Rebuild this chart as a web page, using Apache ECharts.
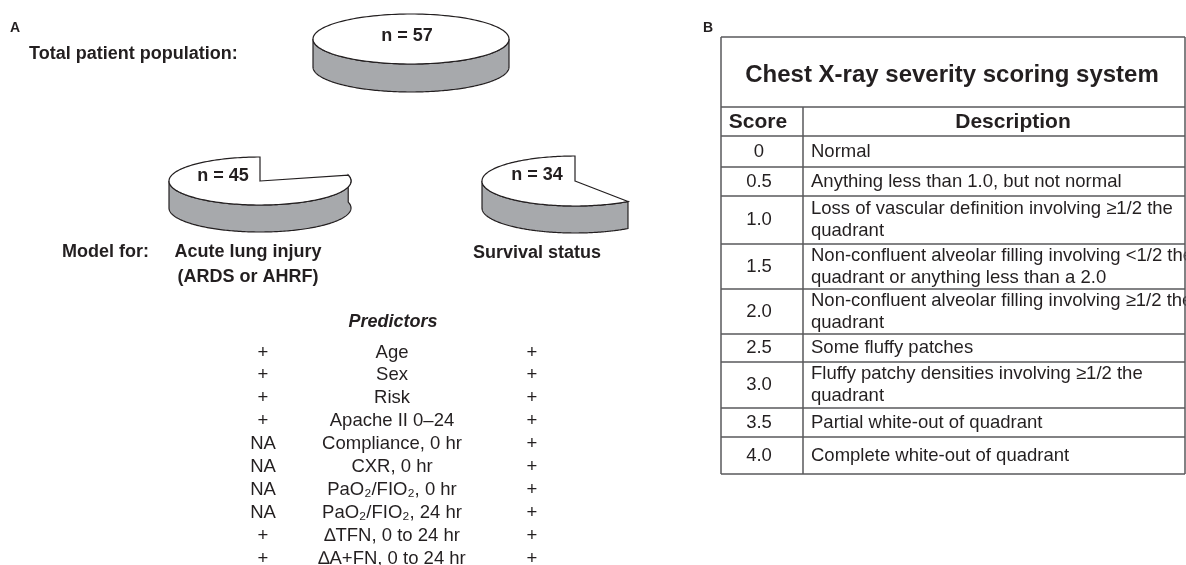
<!DOCTYPE html>
<html><head><meta charset="utf-8">
<script src="https://cdn.jsdelivr.net/npm/echarts@6/dist/echarts.min.js"></script>
<style>html,body{margin:0;padding:0;background:#fff}#c{width:1186px;height:565px}</style>
</head><body><div id="c"></div>
<script>
// ---------------- DATA ----------------
const totalN = 57;
const pieGroups = ['Total patient population', 'Acute lung injury (ARDS or AHRF)', 'Survival status'];
const pieN = [57, 45, 34];
const predictors = ['Age', 'Sex', 'Risk', 'Apache II 0–24', 'Compliance, 0 hr', 'CXR, 0 hr',
  'PaO₂/FIO₂, 0 hr', 'PaO₂/FIO₂, 24 hr', '∆TFN, 0 to 24 hr', '∆A+FN, 0 to 24 hr'];
const aliMarks = ['+', '+', '+', '+', 'NA', 'NA', 'NA', 'NA', '+', '+'];
const survivalMarks = ['+', '+', '+', '+', '+', '+', '+', '+', '+', '+'];
const cxrScores = ['0', '0.5', '1.0', '1.5', '2.0', '2.5', '3.0', '3.5', '4.0'];
const cxrDescriptions = [
  'Normal',
  'Anything less than 1.0, but not normal',
  'Loss of vascular definition involving ≥1/2 the\nquadrant',
  'Non-confluent alveolar filling involving <1/2 the\nquadrant or anything less than a 2.0',
  'Non-confluent alveolar filling involving ≥1/2 the\nquadrant',
  'Some fluffy patches',
  'Fluffy patchy densities involving ≥1/2 the\nquadrant',
  'Partial white-out of quadrant',
  'Complete white-out of quadrant'
];

// ---------------- LAYOUT / STYLE ----------------
const INK = '#231f20', GRAY = '#a7a9ac', RULE = '#58595b';
const FONT = '"Liberation Sans", Arial, Helvetica, sans-serif';
const pieGeom = [
  {cx: 411, cy: 39, rx: 98, ry: 25, h: 28, lx: 407, ly: 36},
  {cx: 260, cy: 181, rx: 91, ry: 24, h: 27, lx: 223, ly: 176.5},
  {cx: 575, cy: 181, rx: 93, ry: 25, h: 27, lx: 537, ly: 175.5}
];
const rowHeights = [31, 29, 48, 45, 45, 28, 46, 29, 37];

function renderPie(params, api) {
  const i = params.dataIndex;
  const n = api.value(0);
  const g = pieGeom[i];
  const frac = n / totalN;
  const full = frac >= 1;
  const a0 = (1 - frac) * Math.PI * 2;
  const P = (t, dy) => [g.cx + g.rx * Math.sin(t), g.cy - g.ry * Math.cos(t) + dy];
  const arc = (t0, t1, dy) => {
    const pts = [], N = 160;
    for (let k = 0; k <= N; k++) pts.push(P(t0 + (t1 - t0) * k / N, dy));
    return pts;
  };
  const children = [];
  const ts = full ? Math.PI / 2 : a0, te = Math.PI * 1.5;
  if (ts < te) {
    children.push({type: 'polygon', shape: {points: arc(ts, te, 0).concat(arc(te, ts, g.h))},
      style: {fill: GRAY, stroke: INK, lineWidth: 1.2}});
  }
  const topPts = full ? arc(0, Math.PI * 2, 0) : [[g.cx, g.cy]].concat(arc(a0, Math.PI * 2, 0));
  children.push({type: 'polygon', shape: {points: topPts},
    style: {fill: '#fff', stroke: INK, lineWidth: 1.2, lineJoin: 'miter'}});
  children.push({type: 'text', style: {text: 'n = ' + n, x: g.lx, y: g.ly, align: 'center',
    verticalAlign: 'middle', font: 'bold 18px ' + FONT, fill: INK}});
  return {type: 'group', children};
}

const graphics = [];
function txt(text, x, y, font, align, extra) {
  graphics.push({type: 'text', silent: true, style: Object.assign({text, x, y, font: font + ' ' + FONT,
    fill: INK, align: align || 'left', verticalAlign: 'middle'}, extra || {})});
}
function line(x1, y1, x2, y2) {
  graphics.push({type: 'line', silent: true, shape: {x1, y1, x2, y2}, style: {stroke: RULE, lineWidth: 1.5}});
}

// Panel A texts
txt('A', 10, 28, 'bold 14px');
txt('Total patient population:', 29, 54, 'bold 18px');
txt('Model for:', 62, 252, 'bold 18px');
txt('Acute lung injury\n(ARDS or AHRF)', 248, 264.5, 'bold 18px', 'center', {lineHeight: 25});
txt('Survival status', 537, 253, 'bold 18px', 'center');
txt('Predictors', 393, 322, 'italic bold 18px', 'center');
predictors.forEach((p, k) => {
  const y = 352.5 + k * 22.9;
  txt(aliMarks[k], 263, y, '18.5px', 'center');
  txt(p, 392, y, '18.5px', 'center');
  txt(survivalMarks[k], 532, y, '18.5px', 'center');
});

// Panel B table
txt('B', 703, 28, 'bold 14px');
const tL = 721, tR = 1185, tC = 803, tTop = 37, tHead = 107, tBody = 136;
txt('Chest X-ray severity scoring system', 952, 75, 'bold 24px', 'center');
txt('Score', 758, 122, 'bold 21px', 'center');
txt('Description', 1013, 122, 'bold 21px', 'center');
line(tL, tTop, tR, tTop);
line(tL, tHead, tR, tHead);
line(tL, tBody, tR, tBody);
let y0 = tBody;
cxrScores.forEach((s, k) => {
  const y1 = y0 + rowHeights[k];
  const mid = (y0 + y1) / 2;
  txt(s, 759, mid, '18.5px', 'center');
  txt(cxrDescriptions[k], 811, mid, '18.5px', 'left', {lineHeight: 22});
  line(tL, y1, tR, y1);
  y0 = y1;
});
line(tL, tTop, tL, y0);
line(tC, tHead, tC, y0);
line(tR, tTop, tR, y0);

const chart = echarts.init(document.getElementById('c'), null, {renderer: 'canvas'});
chart.setOption({
  animation: false,
  backgroundColor: '#fff',
  series: [{type: 'custom', coordinateSystem: 'none', silent: true, renderItem: renderPie,
    data: pieN.map((v, k) => ({name: pieGroups[k], value: [v]}))}],
  graphic: graphics
});
</script></body></html>
